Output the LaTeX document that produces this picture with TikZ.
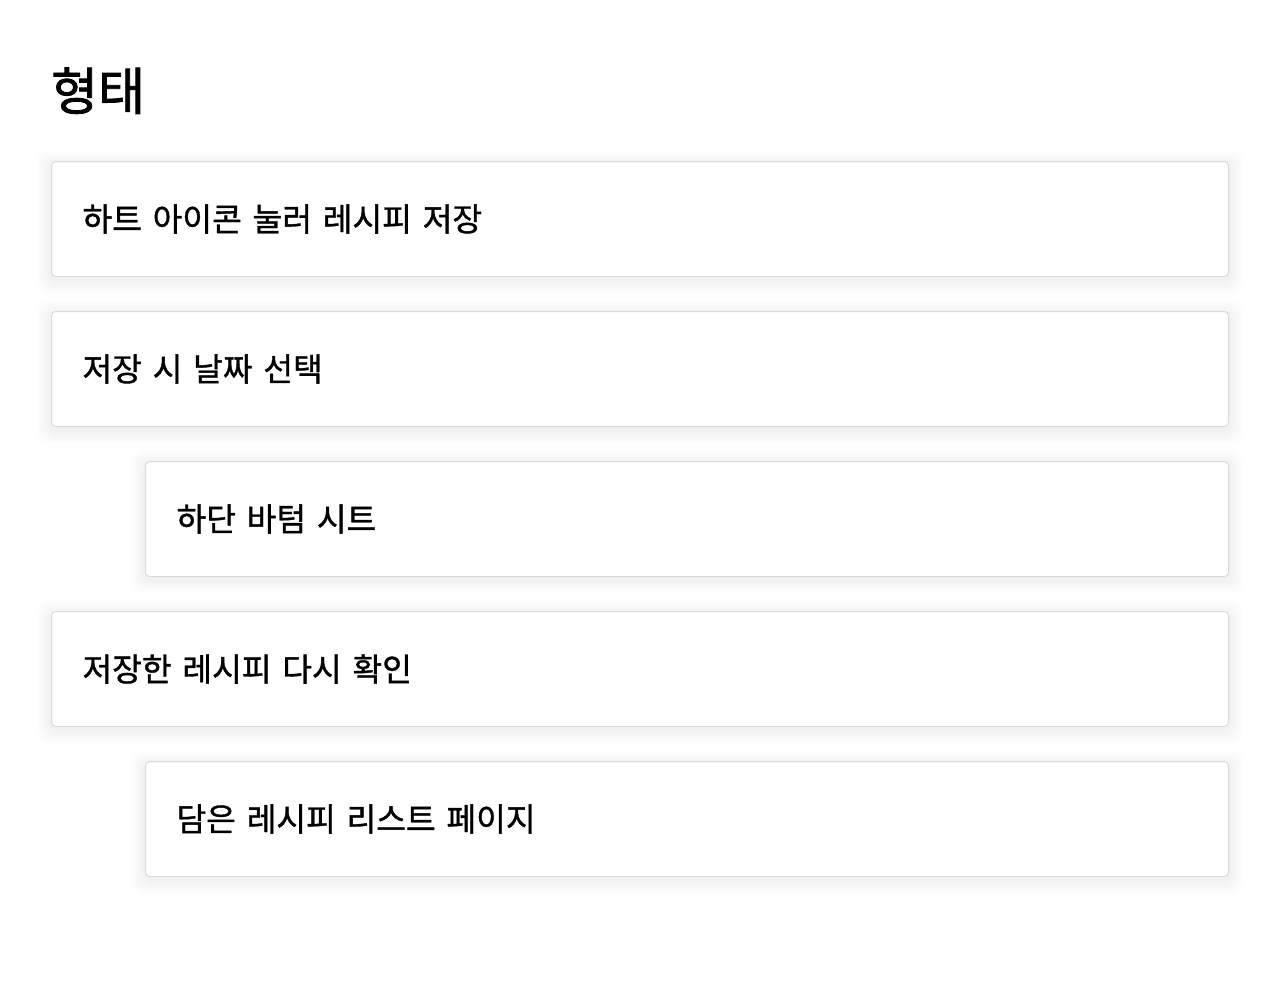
\documentclass[tikz,border=0pt]{standalone}
\usepackage{fontspec}
\setmainfont{Noto Sans CJK KR}
\newfontfamily\krmed[FakeBold=1.1]{Noto Sans CJK KR}
\newfontfamily\krbold[FakeBold=1.6]{Noto Sans CJK KR}
\usetikzlibrary{backgrounds}
\tikzset{
  card/.style={draw={rgb,255:red,218;green,218;blue,218}, line width=1pt, fill=white, rounded corners=4pt,
    anchor=north west, minimum height=115pt, align=left, inner xsep=31pt, inner ysep=0pt,
    font=\krmed\fontsize{32.3}{38}\selectfont},
  shadowlayer/.style={fill=black, fill opacity=0.0028, rounded corners=10pt},
  title/.style={anchor=base west, inner sep=0pt, font=\krbold\fontsize{51}{58}\selectfont}
}
\newcommand{\cardshadow}[1]{%
  \foreach \s in {1,...,14}{%
    \fill[shadowlayer] ([shift={(-\s*1.0,\s*1.0-3)}]#1.north west) rectangle ([shift={(\s*1.0,-3-\s*1.0)}]#1.south east);
  }}
\begin{document}
\begin{tikzpicture}[x=1pt,y=1pt]
\useasboundingbox (0,0) rectangle (1280,-988);
\node[title] (t) at (51,-110) {형태};
\node[card, text width=1115pt] (a) at (51,-161) {하트 아이콘 눌러 레시피 저장};
\node[card, text width=1115pt] (b) at (51,-311) {저장 시 날짜 선택};
\node[card, text width=1021pt] (c) at (145,-461) {하단 바텀 시트};
\node[card, text width=1115pt] (d) at (51,-611) {저장한 레시피 다시 확인};
\node[card, text width=1021pt] (e) at (145,-761) {담은 레시피 리스트 페이지};
\begin{scope}[on background layer]
\fill[white] (0,0) rectangle (1280,-988);
\cardshadow{a}\cardshadow{b}\cardshadow{c}\cardshadow{d}\cardshadow{e}
\end{scope}
\end{tikzpicture}
\end{document}
